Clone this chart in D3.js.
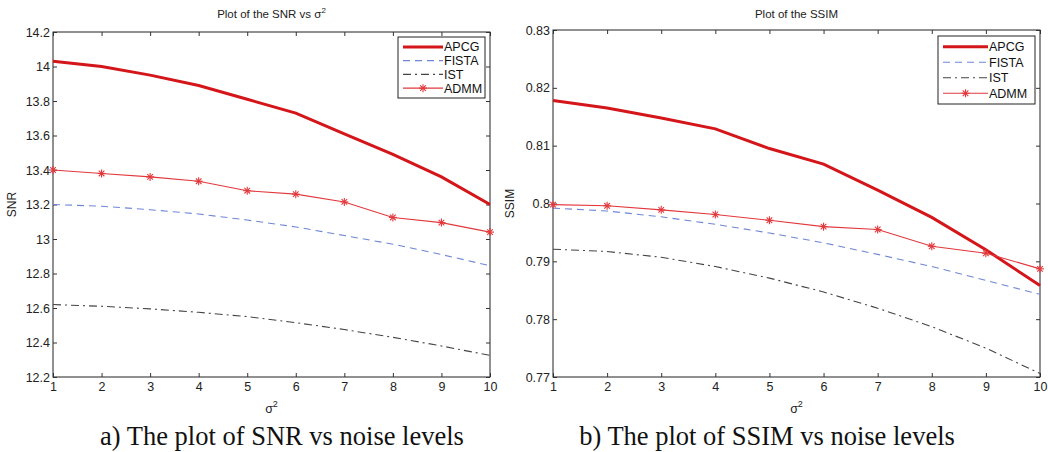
<!DOCTYPE html>
<html>
<head>
<meta charset="utf-8">
<script src="https://cdn.jsdelivr.net/npm/d3@7"></script>
<style>
  body { margin: 0; background: #fff; }
  svg { display: block; }
</style>
</head>
<body>
<svg id="chart" width="1048" height="452"></svg>
<script>
// noise levels (sigma^2)
const sigma = [1, 2, 3, 4, 5, 6, 7, 8, 9, 10];

// SNR values
const snrAPCG = [14.03, 14.0, 13.95, 13.89, 13.81, 13.73, 13.61, 13.49, 13.36, 13.2];
const snrFISTA = [13.2, 13.19, 13.17, 13.145, 13.11, 13.07, 13.02, 12.97, 12.91, 12.845];
const snrIST = [12.62, 12.61, 12.595, 12.575, 12.55, 12.515, 12.475, 12.43, 12.38, 12.325];
const snrADMM = [13.4, 13.38, 13.36, 13.335, 13.28, 13.26, 13.215, 13.125, 13.095, 13.04];

// SSIM values
const ssimAPCG = [0.8178, 0.8165, 0.8148, 0.8129, 0.8095, 0.8068, 0.8023, 0.7976, 0.792, 0.7858];
const ssimFISTA = [0.7992, 0.7987, 0.7977, 0.7964, 0.7949, 0.7932, 0.7912, 0.7891, 0.7867, 0.7843];
const ssimIST = [0.7921, 0.7917, 0.7907, 0.7891, 0.7871, 0.7847, 0.7819, 0.7787, 0.775, 0.7706];
const ssimADMM = [0.7998, 0.7996, 0.7989, 0.7981, 0.7971, 0.796, 0.7955, 0.7926, 0.7914, 0.7887];

const snrTicks = [12.2, 12.4, 12.6, 12.8, 13, 13.2, 13.4, 13.6, 13.8, 14, 14.2];
const ssimTicks = [0.77, 0.78, 0.79, 0.8, 0.81, 0.82, 0.83];

const seriesNames = ["APCG", "FISTA", "IST", "ADMM"];
const styles = {
  APCG: { color: "#d4161a", width: 3, dash: null },
  FISTA: { color: "#6f86d6", width: 1.1, dash: "7,5" },
  IST: { color: "#444", width: 1.1, dash: "8,4,2,4" },
  ADMM: { color: "#e2383c", width: 1.1, dash: null, marker: true }
};

const svg = d3.select("#chart");
const sans = "Liberation Sans, Arial, sans-serif";

function drawPanel(opt) {
  const x = d3.scaleLinear().domain([1, 10]).range([opt.left, opt.right]);
  const y = d3.scaleLinear().domain(opt.yDomain).range([opt.bottom, opt.top]);
  const g = svg.append("g");

  // frame
  g.append("rect")
    .attr("x", opt.left).attr("y", opt.top)
    .attr("width", opt.right - opt.left).attr("height", opt.bottom - opt.top)
    .attr("fill", "none").attr("stroke", "#222").attr("stroke-width", 1);

  // axes, matlab style ticks pointing inward
  g.append("g")
    .attr("transform", "translate(0," + opt.bottom + ")")
    .call(d3.axisBottom(x).tickValues(sigma).tickSize(-4).tickPadding(5).tickFormat(d3.format("d")))
    .call(a => a.select(".domain").remove());
  g.append("g")
    .attr("transform", "translate(0," + opt.top + ")")
    .call(d3.axisTop(x).tickValues(sigma).tickSize(-4).tickFormat(""))
    .call(a => a.select(".domain").remove());
  g.append("g")
    .attr("transform", "translate(" + opt.left + ",0)")
    .call(d3.axisLeft(y).tickValues(opt.yTicks).tickSize(-4).tickPadding(3).tickFormat(d3.format("~g")))
    .call(a => a.select(".domain").remove());
  g.append("g")
    .attr("transform", "translate(" + opt.right + ",0)")
    .call(d3.axisRight(y).tickValues(opt.yTicks).tickSize(-4).tickFormat(""))
    .call(a => a.select(".domain").remove());
  g.selectAll(".tick line").attr("stroke", "#333");
  g.selectAll(".tick text")
    .attr("font-family", sans)
    .attr("font-size", 12.5).attr("fill", "#222");

  // lines
  const line = d3.line().x((d, i) => x(sigma[i])).y(d => y(d));
  seriesNames.forEach(name => {
    const s = styles[name];
    g.append("path")
      .datum(opt.data[name])
      .attr("fill", "none")
      .attr("stroke", s.color)
      .attr("stroke-width", s.width)
      .attr("stroke-dasharray", s.dash)
      .attr("d", line);
    if (s.marker) {
      g.selectAll(null)
        .data(opt.data[name])
        .enter()
        .append("g")
        .attr("transform", (d, i) => "translate(" + x(sigma[i]) + "," + y(d) + ")")
        .call(drawStar, s.color);
    }
  });

  // title and labels
  svg.append("text")
    .attr("x", (opt.left + opt.right) / 2).attr("y", 18)
    .attr("text-anchor", "middle")
    .attr("font-family", sans)
    .attr("font-size", 11.5).attr("fill", "#222")
    .html(opt.title);
  svg.append("text")
    .attr("transform", "translate(" + opt.yLabelX + "," + (opt.top + opt.bottom) / 2 + ") rotate(-90)")
    .attr("text-anchor", "middle")
    .attr("font-family", sans)
    .attr("font-size", 12).attr("fill", "#222")
    .text(opt.yLabel);
  svg.append("text")
    .attr("x", (opt.left + opt.right) / 2).attr("y", 413)
    .attr("text-anchor", "middle")
    .attr("font-family", sans)
    .attr("font-size", 12.5).attr("fill", "#222")
    .html("σ<tspan dy='-6' font-size='9'>2</tspan>");
  svg.append("text")
    .attr("x", opt.captionX).attr("y", 445)
    .attr("text-anchor", "middle")
    .attr("font-family", "Liberation Serif, Times New Roman, serif")
    .attr("font-size", 26.5).attr("fill", "#111")
    .text(opt.caption);

  // legend
  const lg = g.append("g").attr("transform", "translate(" + opt.legend.x + "," + opt.legend.y + ")");
  lg.append("rect")
    .attr("width", opt.legend.w).attr("height", opt.legend.h)
    .attr("fill", "#fff").attr("stroke", "#222").attr("stroke-width", 1);
  const rowH = (opt.legend.h - 6) / seriesNames.length;
  seriesNames.forEach((name, i) => {
    const s = styles[name];
    const cy = 3 + rowH * (i + 0.5);
    lg.append("line")
      .attr("x1", 5).attr("x2", opt.legend.lineW)
      .attr("y1", cy).attr("y2", cy)
      .attr("stroke", s.color).attr("stroke-width", s.width)
      .attr("stroke-dasharray", s.dash);
    if (s.marker) {
      lg.append("g")
        .attr("transform", "translate(" + (5 + opt.legend.lineW) / 2 + "," + cy + ")")
        .call(drawStar, s.color);
    }
    lg.append("text")
      .attr("x", opt.legend.lineW + 1).attr("y", cy + 4.5)
      .attr("font-family", sans)
      .attr("font-size", 12.5).attr("fill", "#111")
      .text(name);
  });
}

function drawStar(sel, color) {
  const r = 4;
  const pts = [[-r, 0, r, 0], [0, -r, 0, r], [-r * 0.7, -r * 0.7, r * 0.7, r * 0.7], [-r * 0.7, r * 0.7, r * 0.7, -r * 0.7]];
  pts.forEach(p => {
    sel.append("line")
      .attr("x1", p[0]).attr("y1", p[1]).attr("x2", p[2]).attr("y2", p[3])
      .attr("stroke", color).attr("stroke-width", 1.1);
  });
}

drawPanel({
  left: 53, right: 490, top: 32, bottom: 377,
  yDomain: [12.2, 14.2], yTicks: snrTicks,
  data: { APCG: snrAPCG, FISTA: snrFISTA, IST: snrIST, ADMM: snrADMM },
  title: "Plot of the SNR vs σ<tspan dy='-5' font-size='8'>2</tspan>",
  yLabel: "SNR", yLabelX: 16,
  caption: "a) The plot of SNR vs noise levels", captionX: 282,
  legend: { x: 398, y: 37, w: 87, h: 61, lineW: 45 }
});

drawPanel({
  left: 553, right: 1040, top: 30, bottom: 377,
  yDomain: [0.77, 0.83], yTicks: ssimTicks,
  data: { APCG: ssimAPCG, FISTA: ssimFISTA, IST: ssimIST, ADMM: ssimADMM },
  title: "Plot of the SSIM",
  yLabel: "SSIM", yLabelX: 514,
  caption: "b) The plot of SSIM vs noise levels", captionX: 767,
  legend: { x: 938, y: 36, w: 97, h: 68, lineW: 50 }
});
</script>
</body>
</html>
